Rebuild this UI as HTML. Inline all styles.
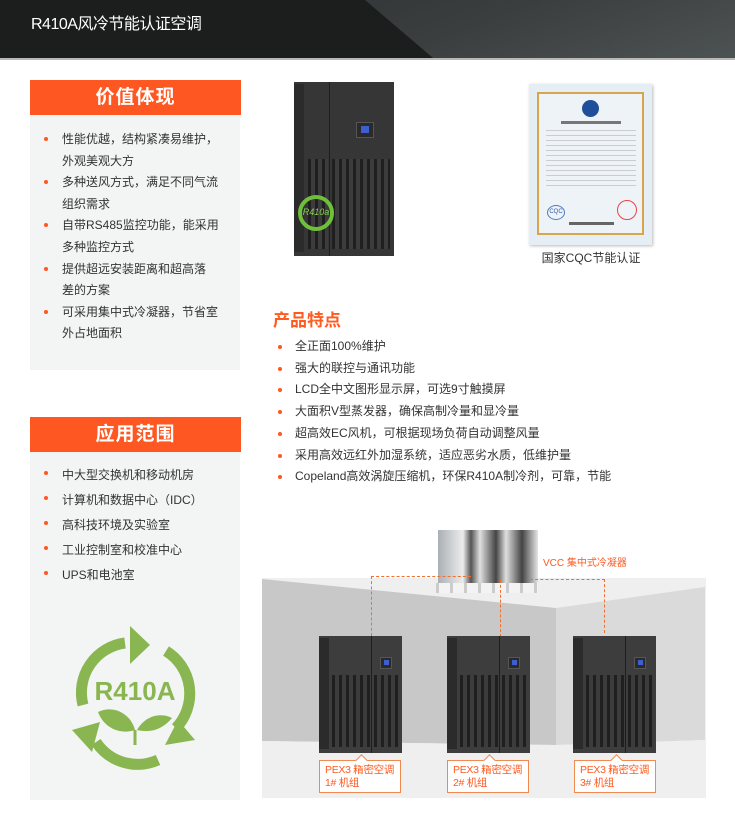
<!DOCTYPE html>
<html><head><meta charset="utf-8">
<style>
*{margin:0;padding:0;box-sizing:border-box}
body{width:735px;height:813px;position:relative;background:#fff;font-family:"Liberation Sans","Noto Sans CJK SC",sans-serif;overflow:hidden;color:#333}
.a{position:absolute}
.hdr{left:0;top:0;width:735px;height:58px;background:linear-gradient(160deg,#2a2c2d 0%,#3a3e3f 60%,#4d5253 100%)}
.hdrL{left:0;top:0;width:735px;height:58px;background:#1c1d1d;clip-path:polygon(0 0,365px 0,433px 58px,0 58px)}
.line{left:0;top:58px;width:735px;height:2px;background:#b8b8b8}
.title{left:31px;top:10px;color:#fff;font-size:16px;letter-spacing:-0.5px}
.panel{background:#f3f4f4;left:30px;width:210px}
.oh{left:30px;width:211px;height:35px;background:#ff5722;color:#fff;font-size:19px;font-weight:bold;text-align:center;line-height:35px;letter-spacing:1px}
ul{list-style:none}
.lst li{position:relative;font-size:12px;line-height:21.6px;padding-left:32px;color:#333}
.lst li:before{content:"";position:absolute;left:14px;top:8px;width:4px;height:4px;border-radius:50%;background:#ff5722}
.feat li{position:relative;font-size:12px;line-height:21.7px;padding-left:22px;color:#333}
.feat li:before{content:"";position:absolute;left:5px;top:9px;width:4px;height:4px;border-radius:50%;background:#ff5722}
.cab{position:absolute;background:#3d3d3e}
.cab .side{position:absolute;left:0;top:2px;width:12%;bottom:4px;background:#2b2b2c}
.cab .div{position:absolute;left:63%;top:0;bottom:0;width:1px;background:#1e1e1e}
.cab .gr{position:absolute;background:repeating-linear-gradient(90deg,#1f1f20 0 3px,#3c3c3d 3px 7px)}
.cab .scr{position:absolute;background:#2a2a2b;border:1px solid #555}
.cab .scr i{position:absolute;left:25%;top:25%;width:50%;height:50%;background:#3f5fd0}
.lbl{position:absolute;width:82px;height:33px;border:1px solid #f08a50;background:#fff;color:#ff5a1f;font-size:10.5px;line-height:13px;padding:3px 0 0 5px;white-space:nowrap;letter-spacing:-0.3px}
.lbl:before{content:"";position:absolute;left:37px;top:-5px;width:8px;height:8px;background:#fff;border-left:1px solid #f08a50;border-top:1px solid #f08a50;transform:rotate(45deg)}
.dash{position:absolute;border-color:#f07030;border-style:dashed;border-width:0}
</style></head><body>
<div class="a hdr"></div><div class="a hdrL"></div><div class="a line"></div>
<div class="a title">R410A风冷节能认证空调</div>

<div class="a panel" style="top:115px;height:255px"></div>
<div class="a oh" style="top:80px">价值体现</div>
<ul class="a lst" style="left:30px;top:129px;width:210px">
<li>性能优越，结构紧凑易维护，<br>外观美观大方</li>
<li>多种送风方式，满足不同气流<br>组织需求</li>
<li>自带RS485监控功能，能采用<br>多种监控方式</li>
<li>提供超远安装距离和超高落<br>差的方案</li>
<li>可采用集中式冷凝器，节省室<br>外占地面积</li>
</ul>

<div class="a panel" style="top:452px;height:348px"></div>
<div class="a oh" style="top:417px">应用范围</div>
<ul class="a lst" style="left:30px;top:463px;width:210px">
<li style="line-height:25px">中大型交换机和移动机房</li>
<li style="line-height:25px">计算机和数据中心（IDC）</li>
<li style="line-height:25px">高科技环境及实验室</li>
<li style="line-height:25px">工业控制室和校准中心</li>
<li style="line-height:25px">UPS和电池室</li>
</ul>
<svg class="a" style="left:60px;top:615px" width="150" height="160" viewBox="60 615 150 160">
<g fill="none" stroke="#8ab651" stroke-width="11">
<path d="M83 705 A50 50 0 0 1 125 643"/>
<path d="M166 651 A50 50 0 0 1 176 728"/>
<path d="M158 760 A50 50 0 0 1 96 742"/>
</g>
<g fill="#8ab651">
<polygon points="130,626 150,645 130,664"/>
<polygon points="165,745 195,740 178,720"/>
<polygon points="72,730 100,722 92,752"/>
</g>
<text x="135" y="700" text-anchor="middle" font-family="Liberation Sans,sans-serif" font-weight="bold" font-size="26" fill="#8ab651">R410A</text>
<path d="M98 712 C112 705 130 712 135 730 C120 735 104 728 98 712Z" fill="#8ab651"/>
<path d="M137 730 C145 716 160 712 172 718 C162 730 150 733 137 730Z" fill="#8ab651"/>
<path d="M135 730 L135 745" stroke="#8ab651" stroke-width="3"/>
</svg>

<!-- top cabinet -->
<div class="cab" style="left:294px;top:82px;width:100px;height:174px;background:#363637">
<div class="side" style="width:10%"></div><div class="div" style="left:35%"></div>
<div class="gr" style="left:14%;top:44%;width:20%;bottom:4%"></div>
<div class="gr" style="left:38%;top:44%;width:58%;bottom:4%"></div>
<div class="scr" style="left:62%;top:23%;width:18%;height:9%"><i></i></div>
<div style="position:absolute;left:4px;top:113px;width:36px;height:36px;border:4px solid #6fbf3a;border-radius:50%;color:#8bd050;font-size:9px;text-align:center;line-height:26px;font-style:italic">R410a</div>
</div>
<!-- certificate -->
<div class="a" style="left:529px;top:84px;width:123px;height:161px;background:#e6eef5;box-shadow:1px 1px 3px #bbb"></div>
<div class="a" style="left:537px;top:92px;width:107px;height:143px;border:2px solid #d7a54a;background:#eef3f8"></div>
<div class="a" style="left:582px;top:100px;width:17px;height:17px;border-radius:50%;background:#1f4f9a"></div>
<div class="a" style="left:561px;top:121px;width:60px;height:3px;background:#777"></div>
<div class="a" style="left:546px;top:130px;width:90px;height:60px;background:repeating-linear-gradient(180deg,#c9ccd2 0 1px,transparent 1px 5px)"></div>
<div class="a" style="left:547px;top:205px;width:18px;height:15px;border-radius:50%;border:1px solid #4b7ac0;color:#2a58a8;font-size:6px;text-align:center;line-height:13px">CQC</div>
<div class="a" style="left:617px;top:200px;width:20px;height:20px;border-radius:50%;border:1px solid #e44"></div>
<div class="a" style="left:569px;top:222px;width:45px;height:3px;background:#666"></div>
<div class="a" style="left:528px;top:249px;width:126px;text-align:center;font-size:12px;color:#333">国家CQC节能认证</div>

<div class="a" style="left:273px;top:306px;font-size:17px;font-weight:bold;color:#ff5a1f">产品特点</div>
<ul class="a feat" style="left:273px;top:336px;width:400px">
<li>全正面100%维护</li>
<li>强大的联控与通讯功能</li>
<li>LCD全中文图形显示屏，可选9寸触摸屏</li>
<li>大面积V型蒸发器，确保高制冷量和显冷量</li>
<li>超高效EC风机，可根据现场负荷自动调整风量</li>
<li>采用高效远红外加湿系统，适应恶劣水质，低维护量</li>
<li>Copeland高效涡旋压缩机，环保R410A制冷剂，可靠，节能</li>
</ul>

<!-- room -->
<svg class="a" style="left:262px;top:578px" width="444" height="220" viewBox="262 578 444 220">
<rect x="262" y="578" width="444" height="220" fill="#efefef"/>
<polygon points="262,579 556,608 556,745 262,741" fill="#c8c8c8"/>
<polygon points="556,608 705,587 705,740 556,745" fill="#dadada"/>
<polygon points="262,741 556,745 705,740 705,797 262,797" fill="#efefef"/>
</svg>
<!-- condenser -->
<div class="a" style="left:438px;top:530px;width:100px;height:55px;background:linear-gradient(90deg,#aab0b5,#ececec 25%,#555 33%,#e0e0e0 42%,#444 58%,#e0e0e0 68%,#444 84%,#e5e5e5)"></div>
<div class="a" style="left:436px;top:583px;width:102px;height:10px;background:repeating-linear-gradient(90deg,#ccc 0 3px,#f3f3f3 3px 14px)"></div>
<div class="a" style="left:543px;top:554px;font-size:10px;color:#ff5a1f">VCC 集中式冷凝器</div>
<div class="dash" style="left:371px;top:576px;width:100px;height:60px;border-top-width:1px;border-left-width:1px"></div>
<div class="dash" style="left:500px;top:580px;width:1px;height:57px;border-left-width:1px"></div>
<div class="dash" style="left:530px;top:579px;width:75px;height:54px;border-top-width:1px;border-right-width:1px"></div>

<div class="cab" style="left:319px;top:636px;width:83px;height:117px">
<div class="side"></div><div class="div"></div>
<div class="gr" style="left:16%;top:33%;width:45%;bottom:5%"></div>
<div class="gr" style="left:66%;top:33%;width:30%;bottom:5%"></div>
<div class="scr" style="left:74%;top:18%;width:14%;height:10%"><i></i></div></div>
<div class="cab" style="left:447px;top:636px;width:83px;height:117px">
<div class="side"></div><div class="div"></div>
<div class="gr" style="left:16%;top:33%;width:45%;bottom:5%"></div>
<div class="gr" style="left:66%;top:33%;width:30%;bottom:5%"></div>
<div class="scr" style="left:74%;top:18%;width:14%;height:10%"><i></i></div></div>
<div class="cab" style="left:573px;top:636px;width:83px;height:117px">
<div class="side"></div><div class="div"></div>
<div class="gr" style="left:16%;top:33%;width:45%;bottom:5%"></div>
<div class="gr" style="left:66%;top:33%;width:30%;bottom:5%"></div>
<div class="scr" style="left:74%;top:18%;width:14%;height:10%"><i></i></div></div>

<div class="lbl" style="left:319px;top:760px">PEX3 精密空调<br>1# 机组</div>
<div class="lbl" style="left:447px;top:760px">PEX3 精密空调<br>2# 机组</div>
<div class="lbl" style="left:574px;top:760px">PEX3 精密空调<br>3# 机组</div>
</body></html>
